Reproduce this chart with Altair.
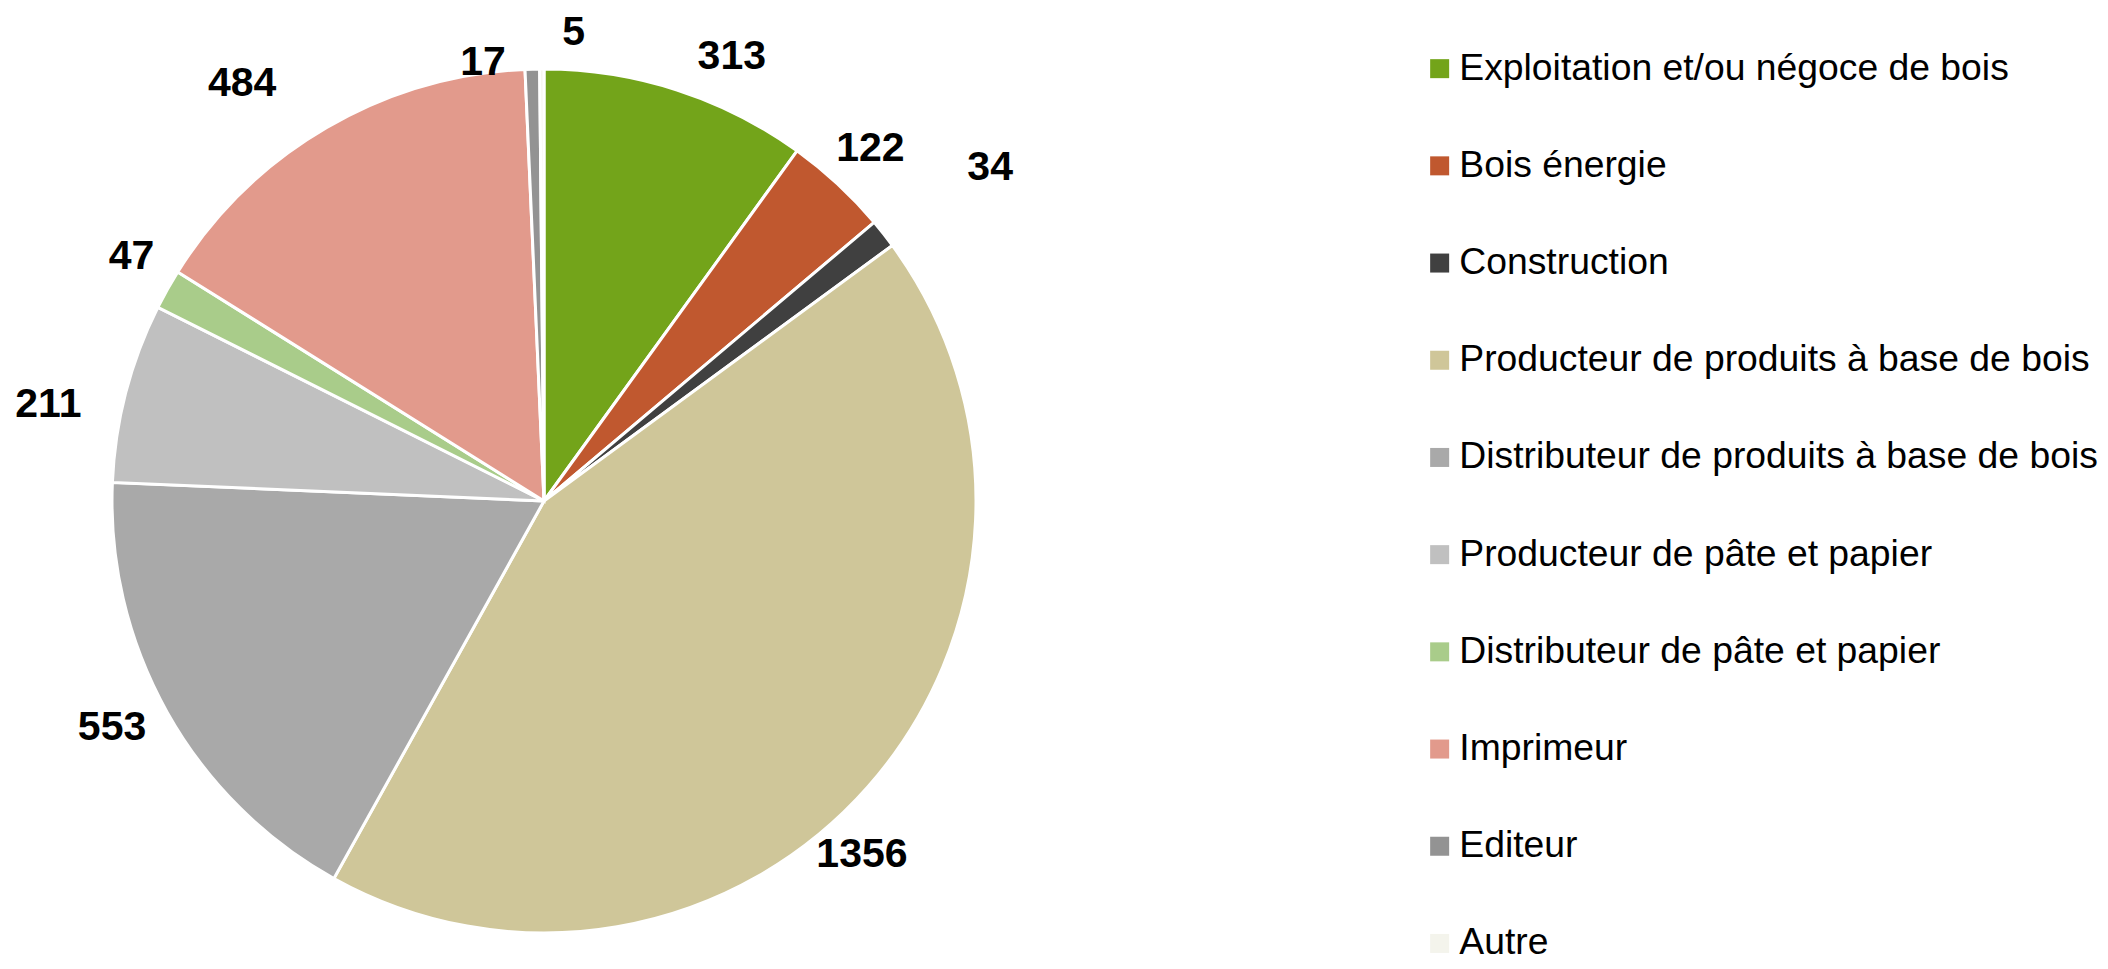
import altair as alt
import pandas as pd

categories = [
    "Exploitation et/ou négoce de bois",
    "Bois énergie",
    "Construction",
    "Producteur de produits à base de bois",
    "Distributeur de produits à base de bois",
    "Producteur de pâte et papier",
    "Distributeur de pâte et papier",
    "Imprimeur",
    "Editeur",
    "Autre",
]
values = [313, 122, 34, 1356, 553, 211, 47, 484, 17, 5]
colors = ["#73A41A", "#C0582F", "#404040", "#CFC699", "#A9A9A9",
          "#C0C0C0", "#A9CC8A", "#E29A8C", "#939393", "#F4F4EC"]

df = pd.DataFrame({"cat": categories, "value": values, "idx": list(range(len(values)))})

CX, CY = 536, 493
R = 432
LABEL_R = 480
# label nudges (Excel-style outside placement), in pixels
nudge = {
    "Exploitation et/ou négoce de bois": (40, 13),
    "Bois énergie": (0, 0),
    "Construction": (69, -36),
    "Producteur de produits à base de bois": (-42, 36),
    "Distributeur de produits à base de bois": (-13, -7),
    "Producteur de pâte et papier": (-31, 25),
    "Distributeur de pâte et papier": (6, -9),
    "Imprimeur": (-60, -2),
    "Editeur": (-48, 42),
    "Autre": (32, 12),
}

base = alt.Chart(df).encode(x=alt.value(CX), y=alt.value(CY))

arcs = base.mark_arc(outerRadius=R, stroke="white", strokeWidth=3).encode(
    theta=alt.Theta("value:Q", stack=True),
    order=alt.Order("idx:Q"),
    color=alt.Color(
        "cat:N",
        scale=alt.Scale(domain=categories, range=colors),
        sort=categories,
        legend=alt.Legend(
            title=None,
            orient="none",
            legendX=1413,
            legendY=42,
            symbolType="square",
            symbolSize=361,
            symbolStrokeWidth=0,
            labelFontSize=37.3,
            labelFont="Liberation Sans",
            labelColor="black",
            labelLimit=1000,
            rowPadding=59.2,
            symbolOffset=0,
            labelOffset=1,
        ),
    ),
)

label_base = base.transform_window(
    cum="sum(value)", sort=[alt.SortField("idx")], frame=[None, 0]
).transform_calculate(mid="datum.cum - datum.value / 2")

layers = [arcs]
for cat in categories:
    dx, dy = nudge[cat]
    layers.append(
        label_base.mark_text(
            radius=LABEL_R, fontSize=41, fontWeight="bold", font="Liberation Sans",
            color="black", dx=dx, dy=dy,
        ).encode(
            theta=alt.Theta("mid:Q", stack=None),
            text="value:Q",
        ).transform_filter(alt.datum.cat == cat)
    )

chart = alt.layer(*layers).properties(
    width=2092, height=953,
    autosize=alt.AutoSizeParams(type="none"),
    padding=0,
).configure_view(stroke=None)

chart.save("out.html", embed_options={"renderer": "svg", "actions": False})
